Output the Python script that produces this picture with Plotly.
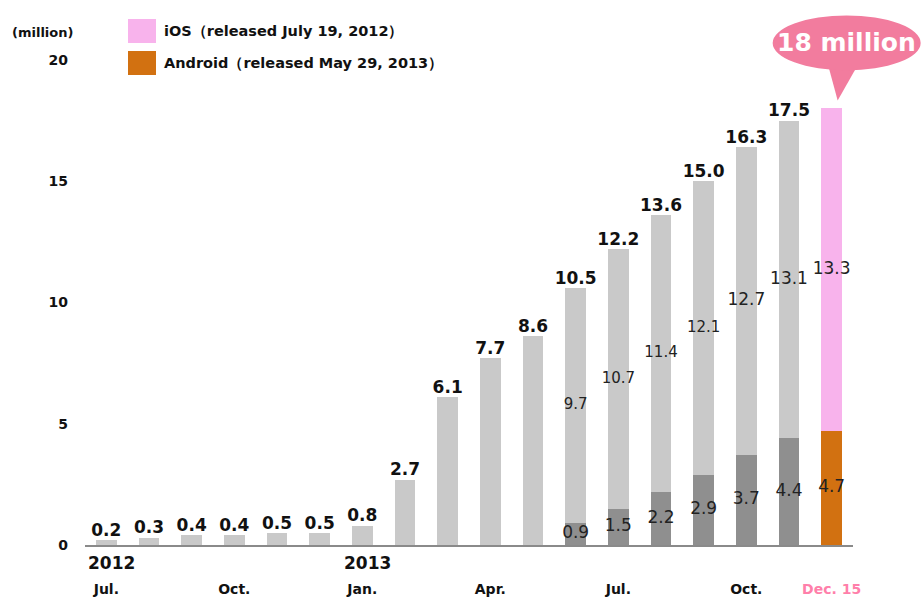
import plotly.graph_objects as go

# Monthly cumulative downloads (million), Jul. 2012 .. Dec. 15, 2013
months = ["Jul.", "Aug.", "Sep.", "Oct.", "Nov.", "Dec.",
          "Jan.", "Feb.", "Mar.", "Apr.", "May", "Jun.",
          "Jul.", "Aug.", "Sep.", "Oct.", "Nov.", "Dec. 15"]
ios = [0.2, 0.3, 0.4, 0.4, 0.5, 0.5, 0.8, 2.7, 6.1, 7.7, 8.6,
       9.7, 10.7, 11.4, 12.1, 12.7, 13.1, 13.3]
android = [None] * 11 + [0.9, 1.5, 2.2, 2.9, 3.7, 4.4, 4.7]
totals = [0.2, 0.3, 0.4, 0.4, 0.5, 0.5, 0.8, 2.7, 6.1, 7.7, 8.6,
          10.5, 12.2, 13.6, 15.0, 16.3, 17.5]
headline = "18 million"
tick_idx = [0, 3, 6, 9, 12, 15, 17]
year_marks = {0: "2012", 6: "2013"}
legend_items = [("iOS（released July 19, 2012）", "#f8b3ec"),
                ("Android（released May 29, 2013）", "#d27111")]

FONT = "DejaVu Sans"
LIGHT, DARK = "#c9c9c9", "#8f8f8f"
PINK, ORANGE = legend_items[0][1], legend_items[1][1]
BUBBLE = "#f27c9e"
Y_MAX = 22.47
n = len(months)
x = list(range(n))
last = n - 1

ios_colors = [PINK if i == last else LIGHT for i in x]
and_colors = [ORANGE if i == last else DARK for i in x]

fig = go.Figure()
fig.add_bar(x=x, y=[a or 0 for a in android], marker_color=and_colors,
            width=0.49, marker_line_width=0, hoverinfo="skip", name="Android")
fig.add_bar(x=x, y=ios, marker_color=ios_colors, width=0.49,
            marker_line_width=0, hoverinfo="skip", name="iOS")

# totals above the stacks
tops = [ios[i] + (android[i] or 0) for i in range(len(totals))]
fig.add_scatter(x=x[:len(totals)], y=tops, mode="text",
                text=[f"{t:.1f}" for t in totals], textposition="top center",
                textfont=dict(family=FONT, size=17, color="#111111"),
                texttemplate="<b>%{text}</b>", cliponaxis=False,
                hoverinfo="skip", showlegend=False)

# segment values inside the split bars
split = [i for i in x if android[i] is not None]
fig.add_scatter(x=split, y=[android[i] / 2 for i in split], mode="text",
                text=[f"{android[i]:.1f}" for i in split],
                textfont=dict(family=FONT, size=17, color="#222222"),
                cliponaxis=False, hoverinfo="skip", showlegend=False)
fig.add_scatter(x=split, y=[android[i] + ios[i] / 2 for i in split], mode="text",
                text=[f"{ios[i]:.1f}" for i in split],
                textfont=dict(family=FONT, color="#222222",
                              size=[15, 15, 15, 15, 17, 17, 17]),
                cliponaxis=False, hoverinfo="skip", showlegend=False)

ticktext = [months[i] if i != last
            else f"<span style='color:#ff7faa'>{months[i]}</span>"
            for i in tick_idx]

fig.update_layout(
    width=921, height=598,
    margin=dict(l=85, r=68, t=0, b=53),
    barmode="stack", bargap=0,
    plot_bgcolor="white", paper_bgcolor="white",
    showlegend=False,
    font=dict(family=FONT, color="#111111"),
    xaxis=dict(range=[-0.5, n - 0.5], tickvals=tick_idx, ticktext=ticktext,
               showgrid=False, zeroline=False, showline=True,
               linecolor="#8a8a8a", linewidth=2, ticks="",
               ticklabelstandoff=30,
               tickfont=dict(family=FONT, size=14, weight="bold", color="#111111")),
    yaxis=dict(range=[0, Y_MAX], tickvals=[0, 5, 10, 15, 20],
               showgrid=False, zeroline=False, showline=False, ticks="",
               ticklabelstandoff=16,
               tickfont=dict(family=FONT, size=14, weight="bold", color="#111111")),
)

for i, yr in year_marks.items():
    fig.add_annotation(x=i, y=0, yshift=-18, xshift=5, text=f"<b>{yr}</b>",
                       showarrow=False, font=dict(family=FONT, size=17),
                       xanchor="center", yanchor="middle")

fig.add_annotation(x=(42 - 85) / 768, y=1 - 33 / 545, xref="paper", yref="paper",
                   text="<b>(million)</b>", showarrow=False,
                   font=dict(family=FONT, size=13), xanchor="center",
                   yanchor="middle")

# legend swatches and labels
for k, (label, color) in enumerate(legend_items):
    cy = 31 + k * 32
    fig.add_shape(type="rect", xref="paper", yref="paper",
                  x0=(128 - 85) / 768, x1=(156 - 85) / 768,
                  y0=1 - (cy + 12) / 545, y1=1 - (cy - 12) / 545,
                  fillcolor=color, line_width=0)
    fig.add_annotation(x=(162 - 85) / 768, y=1 - cy / 545, xref="paper",
                       yref="paper", text=f"<b>{label}</b>", showarrow=False,
                       xanchor="left", yanchor="middle",
                       font=dict(family=FONT, size=14.5))

# callout bubble over the latest bar (paper refs so it can leave the plot area)
top = ios[last] + android[last]
ax = (last + 0.5) / n
ay = top / Y_MAX
fig.add_shape(type="path", xref="paper", yref="paper", xsizemode="pixel",
              ysizemode="pixel", xanchor=ax, yanchor=ay,
              path="M -4 45 L 27 45 L 6 8 Z", fillcolor=BUBBLE, line_width=0)
fig.add_shape(type="circle", xref="paper", yref="paper", xsizemode="pixel",
              ysizemode="pixel", xanchor=ax, yanchor=ay,
              x0=-59, x1=89, y0=38, y1=93, fillcolor=BUBBLE, line_width=0)
fig.add_annotation(x=ax, y=ay, xref="paper", yref="paper", xshift=15, yshift=66,
                   xanchor="center", yanchor="middle",
                   text=f"<b>{headline}</b>", showarrow=False,
                   font=dict(family=FONT, size=25, color="white"))

fig.write_html("out.html")
